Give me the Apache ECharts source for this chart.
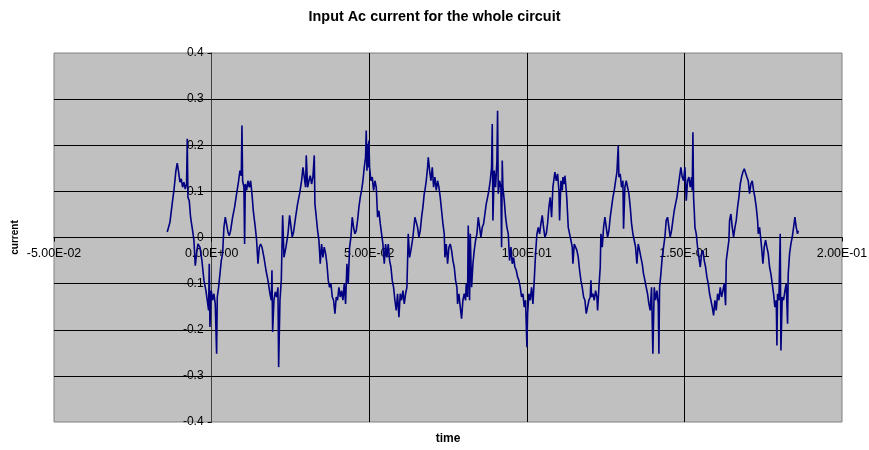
<!DOCTYPE html>
<html>
<head>
    <meta charset="utf-8">
    <style>
        html, body { margin: 0; padding: 0; background: #fff; }
        #chart-container { width: 869px; height: 450px; }
    </style>
</head>
<body>
    <div id="chart-container"></div>

    <script type="text/javascript" src="https://cdn.jsdelivr.net/npm/echarts@6/dist/echarts.min.js"></script>
    <script type="text/javascript">
        // time of each sample, in milliseconds
        var timeMs = [
            -14.07, -13.22, -12.38, -11.95, -11.32, -10.90, -10.47, -10.05, -9.63, -9.20,
            -8.78, -8.36, -7.94, -7.72, -7.51, -7.09, -6.67, -6.03, -5.61, -5.18,
            -4.76, -4.34, -3.70, -3.07, -2.43, -1.80, -1.38, -0.95, -0.74, -0.53,
            -0.11, 0.32, 0.74, 1.16, 1.59, 1.80, 2.22, 2.65, 3.07, 3.49,
            3.91, 4.34, 4.76, 5.18, 5.61, 6.03, 6.67, 7.30, 7.94, 8.57,
            8.99, 9.42, 9.63, 9.84, 10.26, 10.47, 10.69, 11.11, 11.53, 11.96,
            12.38, 12.80, 13.23, 13.86, 14.28, 14.71, 15.13, 15.55, 15.98, 16.61,
            17.25, 17.88, 18.52, 18.94, 19.15, 19.36, 19.78, 20.21, 20.63, 21.05,
            21.27, 21.69, 22.11, 22.54, 22.96, 23.59, 24.23,
            24.75, 25.59, 26.01, 26.65, 27.28, 27.92, 28.55, 28.98, 29.40, 29.82,
            30.03, 30.46, 30.88, 31.30, 31.72, 32.15, 32.57, 32.78, 33.21, 33.63,
            34.05, 34.47, 34.90, 35.32, 35.74, 36.17, 36.59, 37.01, 37.43, 37.86,
            38.28, 38.70, 39.13, 39.55, 39.97, 40.39, 40.82, 41.24, 41.66, 42.09,
            42.51, 42.93, 43.35, 43.78, 44.20, 44.62, 45.05, 45.47, 45.89, 46.31,
            46.74, 47.16, 47.58, 48.01, 48.43, 48.85, 49.06, 49.28, 49.49, 49.70,
            49.91, 50.12, 50.55, 50.97, 51.39, 51.82, 52.24, 52.66, 53.08, 53.51,
            53.93, 54.35, 54.78, 55.20, 55.62, 56.04, 56.47, 56.89, 57.31, 57.74,
            58.16, 58.58, 59.00, 59.43, 59.85, 60.27, 60.70, 61.12, 61.54, 61.96,
            62.39, 62.81, 63.23, 63.87, 64.50, 64.93, 65.35, 65.77, 66.20, 66.62,
            67.04, 67.46,
            67.68, 68.10, 68.52, 68.74, 69.16, 69.58, 70.01, 70.43, 70.85, 71.28,
            71.70, 72.12, 72.54, 72.97, 73.39, 73.81, 74.02, 74.45, 74.87, 75.29,
            75.72, 76.14, 76.56, 76.98, 77.41, 77.83, 78.04, 78.46, 78.89, 79.31,
            79.73, 80.16, 80.58, 80.79, 81.21, 81.42, 81.85, 82.06, 82.48, 82.91,
            83.33, 83.75, 84.17, 84.60, 85.02, 85.44, 85.87, 86.29, 86.71, 87.13,
            87.56, 87.98, 88.40, 88.83, 89.04, 89.25, 89.67, 90.10, 90.52, 90.73,
            90.94, 91.37, 91.79, 92.00, 92.21, 92.42, 92.85, 93.27, 93.69, 94.12,
            94.54, 94.96, 95.38, 95.81, 96.23, 96.65, 97.08, 97.50, 97.92, 98.34,
            98.77, 99.19, 99.61, 100.04, 100.25, 100.67, 101.09, 101.52, 101.94, 102.36,
            102.78, 103.21, 103.63, 104.05, 104.48, 104.90, 105.32, 105.74, 106.17, 106.59,
            107.01, 107.44, 107.86, 108.28, 108.70,
            108.92, 109.35, 109.77, 110.19, 110.40, 110.83, 111.25, 111.46, 111.88, 112.09,
            112.52, 112.73, 113.15, 113.58, 114.00, 114.42, 114.63, 115.06, 115.48, 115.90,
            116.33, 116.75, 117.17, 117.59, 118.02, 118.44, 118.86, 119.29, 119.71, 120.13,
            120.34, 120.55, 120.98, 121.40, 121.82, 122.25, 122.46, 122.88, 123.30, 123.51,
            123.94, 124.36, 124.78, 125.21, 125.63, 126.05, 126.47, 126.90, 127.32, 127.74,
            128.17, 128.59, 129.01, 129.22, 129.64, 130.07, 130.49, 130.70, 131.12, 131.55,
            131.97, 132.39, 132.82, 133.24, 133.66, 134.08, 134.51, 134.93, 135.35, 135.78,
            136.20, 136.62, 137.04, 137.47, 137.89, 138.31, 138.74, 139.16, 139.58, 140.00,
            140.43, 140.85, 141.27, 141.70, 141.91, 142.12, 142.54, 142.96, 143.39, 143.81,
            144.23, 144.66, 145.08, 145.50, 145.92, 146.35, 146.77, 147.19, 147.62, 148.04,
            148.46, 148.88, 149.31, 149.73,
            150.17, 150.59, 151.01, 151.43, 151.86, 152.28, 152.49, 152.70, 152.91, 153.13,
            153.34, 153.76, 154.18, 154.61, 155.03, 155.45, 155.88, 156.30, 156.72, 157.14,
            157.57, 157.99, 158.41, 158.84, 159.26, 159.68, 160.10, 160.53, 160.95, 161.37,
            161.80, 162.22, 162.64, 163.07, 163.28, 163.70, 164.12, 164.33, 164.76, 165.18,
            165.60, 166.03, 166.45, 166.87, 167.29, 167.72, 168.14, 168.56, 168.99, 169.41,
            169.83, 170.25, 170.68, 171.10, 171.52, 171.95, 172.37, 172.79, 173.22, 173.43,
            173.85, 174.27, 174.48, 174.91, 175.33, 175.75, 176.18, 176.60, 177.02, 177.44,
            177.87, 178.29, 178.71, 179.14, 179.35, 179.56, 179.98, 180.40, 180.62, 181.04,
            181.46, 181.89, 182.31, 182.73, 182.94, 183.37, 183.79, 184.21, 184.64, 185.06,
            185.48, 185.90, 186.12
        ];

        // input AC current at each sample
        var current = [
            0.012, 0.033, 0.080, 0.102, 0.145, 0.161, 0.142, 0.120, 0.127, 0.109,
            0.120, 0.105, 0.116, 0.214, 0.087, 0.080, 0.044, 0.015, -0.006, -0.061,
            -0.035, -0.014, -0.021, -0.050, -0.093, -0.115, -0.136, -0.158, -0.057, -0.194,
            -0.115, -0.136, -0.122, -0.144, -0.252, -0.129, -0.108, -0.079, -0.050, -0.035,
            0.022, 0.044, 0.048, 0.012, 0.004, 0.015, 0.044, 0.066, 0.095, 0.123,
            0.145, 0.134, 0.243, 0.123, 0.109, -0.014, 0.116, 0.102, 0.123, 0.109,
            0.123, 0.095, 0.058, 0.022, -0.006, -0.057, -0.021, -0.014, -0.021, -0.043,
            -0.071, -0.093, -0.122, -0.136, -0.071, -0.205, -0.136, -0.118, -0.129, -0.108,
            -0.281, -0.136, -0.093, 0.048, -0.043, -0.021, 0.008,
            0.048, 0.001, 0.012, 0.044, 0.073, 0.095, 0.123, 0.152, 0.131, 0.109,
            0.178, 0.109, 0.123, 0.134, 0.116, 0.131, 0.178, 0.073, 0.044, 0.015,
            -0.006, -0.057, -0.014, -0.043, -0.021, -0.035, -0.057, -0.093, -0.108, -0.100,
            -0.129, -0.136, -0.165, -0.129, -0.136, -0.108, -0.129, -0.115, -0.136, -0.100,
            -0.144, -0.057, -0.100, -0.021, 0.001, 0.044, 0.022, 0.008, 0.015, 0.037,
            0.066, 0.087, 0.102, 0.123, 0.152, 0.174, 0.232, 0.145, 0.203, 0.152,
            0.210, 0.152, 0.123, 0.131, 0.102, 0.123, 0.109, 0.044, 0.058, 0.030,
            0.008, -0.014, -0.057, -0.014, -0.043, -0.014, -0.050, -0.064, -0.093, -0.108,
            -0.136, -0.158, -0.122, -0.173, -0.122, -0.136, -0.115, -0.144, -0.122, -0.108,
            0.008, -0.043, -0.028, 0.001, 0.044, 0.048, 0.022, 0.001, 0.015, 0.044,
            0.066, 0.095,
            0.102, 0.123, 0.152, 0.174, 0.145, 0.123, 0.152, 0.109, 0.131, 0.102,
            0.123, 0.109, 0.087, 0.058, 0.030, 0.008, -0.043, -0.014, -0.057, -0.021,
            -0.014, -0.028, -0.050, -0.064, -0.093, -0.108, -0.144, -0.122, -0.151, -0.176,
            -0.136, -0.122, -0.136, -0.100, -0.129, 0.026, -0.136, 0.008, -0.108, -0.057,
            -0.028, -0.006, 0.008, 0.044, 0.022, 0.001, 0.022, 0.030, 0.051, 0.073,
            0.087, 0.102, 0.123, 0.152, 0.246, 0.037, 0.145, 0.109, 0.167, 0.275,
            0.095, 0.123, 0.109, -0.021, 0.167, 0.109, 0.080, 0.044, 0.022, 0.008,
            -0.050, -0.021, -0.057, -0.043, -0.064, -0.071, -0.086, -0.093, -0.108, -0.129,
            -0.122, -0.151, -0.136, -0.238, -0.165, -0.122, -0.136, -0.108, -0.144, -0.093,
            -0.035, 0.008, 0.022, 0.008, 0.030, 0.048, 0.022, 0.001, 0.008, 0.030,
            0.066, 0.087, 0.044, 0.109, 0.131,
            0.142, 0.123, 0.138, 0.102, 0.037, 0.123, 0.102, 0.131, 0.116, 0.134,
            0.102, 0.080, 0.022, 0.008, -0.006, -0.021, -0.057, -0.014, -0.010, -0.028,
            -0.043, -0.071, -0.093, -0.108, -0.129, -0.136, -0.165, -0.169, -0.136, -0.129,
            -0.093, -0.129, -0.122, -0.136, -0.115, -0.129, -0.158, -0.108, -0.064, 0.008,
            -0.021, 0.022, 0.044, 0.022, 0.001, 0.015, 0.044, 0.066, 0.087, 0.102,
            0.123, 0.142, 0.199, 0.131, 0.138, 0.109, 0.123, 0.019, 0.109, 0.123,
            0.109, 0.095, 0.066, 0.030, 0.008, -0.006, -0.021, -0.057, -0.014, -0.028,
            -0.043, -0.057, -0.079, -0.093, -0.108, -0.122, -0.144, -0.158, -0.108, -0.252,
            -0.108, -0.136, -0.115, -0.144, -0.252, -0.108, -0.079, -0.043, -0.021, 0.001,
            0.037, 0.044, 0.022, 0.001, 0.015, 0.037, 0.058, 0.073, 0.087, 0.109,
            0.131, 0.152, 0.131, 0.123,
            0.152, 0.080, 0.123, 0.131, 0.109, 0.131, 0.102, 0.228, 0.087, 0.058,
            0.022, 0.008, -0.021, -0.043, -0.064, -0.035, -0.028, -0.050, -0.064, -0.086,
            -0.100, -0.122, -0.136, -0.151, -0.169, -0.136, -0.158, -0.122, -0.136, -0.108,
            -0.129, -0.115, -0.100, -0.147, -0.050, -0.028, -0.006, 0.037, 0.051, 0.022,
            0.001, 0.022, 0.037, 0.066, 0.087, 0.116, 0.131, 0.142, 0.149, 0.145,
            0.131, 0.123, 0.095, 0.116, 0.123, 0.102, 0.087, 0.066, 0.037, 0.008,
            0.022, -0.006, -0.021, -0.057, -0.021, -0.006, -0.021, -0.035, -0.064, -0.079,
            -0.100, -0.122, -0.151, -0.136, -0.234, -0.122, -0.136, 0.008, -0.245, -0.129,
            -0.136, -0.115, -0.100, -0.187, -0.079, -0.035, -0.014, 0.001, 0.022, 0.044,
            0.022, 0.008, 0.015
        ];

        var fontFamily = 'Liberation Sans, Arial, Helvetica, sans-serif';

        // plot area, in px
        var gridLeft = 54, gridRight = 27, gridTop = 53, gridBottom = 28;
        var gridW = 869 - gridLeft - gridRight;
        var gridH = 450 - gridTop - gridBottom;

        var xMin = -0.05, xMax = 0.2, xStep = 0.05;
        var yMin = -0.4, yMax = 0.4, yStep = 0.1;

        // 5.00E-02 style labels, as in the spreadsheet
        function sci(v) {
            var parts = v.toExponential(2).split('e');
            var e = parseInt(parts[1], 10);
            var a = Math.abs(e);
            return parts[0] + 'E' + (e < 0 ? '-' : '+') + (a < 10 ? '0' : '') + a;
        }

        var points = timeMs.map(function (t, i) { return [t / 1000, current[i]]; });

        // axes cross at the origin, like the spreadsheet chart: shift them in
        var yAxisShift = -gridW * (0 - xMin) / (xMax - xMin);
        var xAxisShift = -gridH * (0 - yMin) / (yMax - yMin);

        var chartDom = document.getElementById('chart-container');
        var myChart = echarts.init(chartDom);

        var option = {
            animation: false,
            backgroundColor: '#fff',
            title: {
                text: 'Input Ac current for the whole circuit',
                left: 'center',
                top: 5,
                textStyle: { fontFamily: fontFamily, fontSize: 14.4, fontWeight: 'bold', color: '#000' }
            },
            grid: {
                left: gridLeft, right: gridRight, top: gridTop, bottom: gridBottom,
                containLabel: false,
                outerBoundsMode: 'none',
                show: true,
                backgroundColor: '#c0c0c0',
                borderColor: '#808080',
                borderWidth: 1
            },
            xAxis: {
                type: 'value',
                min: xMin,
                max: xMax,
                interval: xStep,
                position: 'bottom',
                offset: xAxisShift,
                name: 'time',
                nameLocation: 'middle',
                nameGap: 195,
                nameMoveOverlap: false,
                nameTextStyle: { fontFamily: fontFamily, fontSize: 12, fontWeight: 'bold', color: '#000' },
                axisLine: { onZero: false, lineStyle: { color: '#000', width: 1 } },
                axisTick: { show: true, length: 4, lineStyle: { color: '#000' } },
                axisLabel: {
                    margin: 10,
                    fontFamily: fontFamily, fontSize: 12.4, color: '#000',
                    formatter: sci
                },
                splitLine: {
                    show: true, showMinLine: false, showMaxLine: false,
                    lineStyle: { color: '#000', width: 1 }
                }
            },
            yAxis: {
                type: 'value',
                min: yMin,
                max: yMax,
                interval: yStep,
                position: 'left',
                offset: yAxisShift,
                name: 'current',
                nameLocation: 'middle',
                nameGap: 191,
                nameMoveOverlap: false,
                nameTextStyle: { fontFamily: fontFamily, fontSize: 10, fontWeight: 'bold', color: '#000' },
                axisLine: { onZero: false, lineStyle: { color: '#404040', width: 1 } },
                axisTick: { show: true, length: 4, lineStyle: { color: '#000' } },
                axisLabel: {
                    margin: 8,
                    fontFamily: fontFamily, fontSize: 12, color: '#000',
                    formatter: function (v) { return String(Math.round(v * 10) / 10); }
                },
                splitLine: {
                    show: true, showMinLine: false, showMaxLine: false,
                    lineStyle: { color: '#000', width: 1 }
                }
            },
            series: [
                {
                    name: 'current',
                    type: 'line',
                    data: points,
                    showSymbol: false,
                    symbol: 'none',
                    lineStyle: { color: '#000080', width: 1.6 },
                    z: 3
                }
            ]
        };
        myChart.setOption(option);
    </script>
</body>
</html>
